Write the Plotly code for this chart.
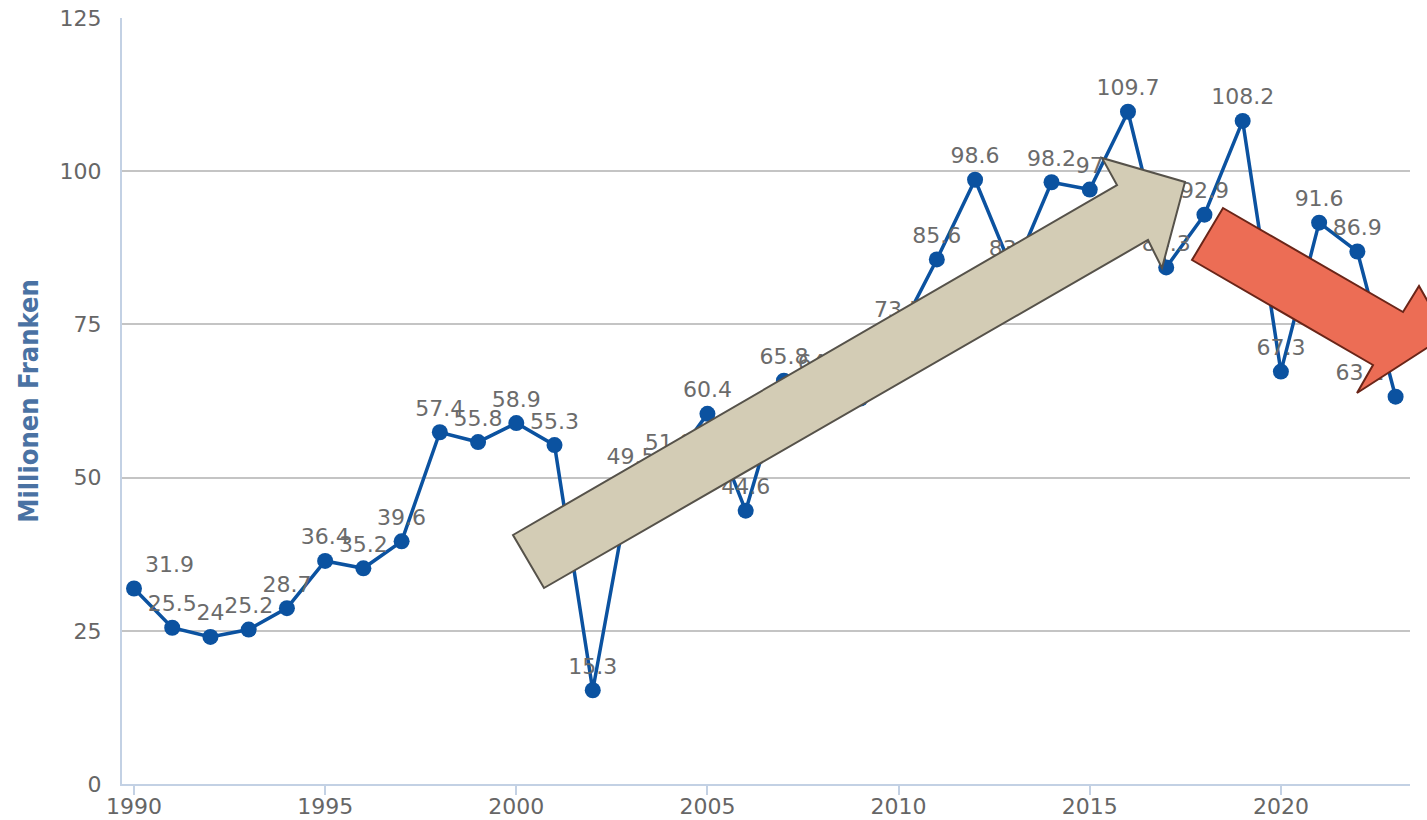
import plotly.graph_objects as go

years = list(range(1990, 2024))
values = [31.9, 25.5, 24.0, 25.2, 28.7, 36.4, 35.2, 39.6, 57.4, 55.8,
          58.9, 55.3, 15.3, 49.5, 51.8, 60.4, 44.6, 65.8, 64.9, 62.9,
          73.5, 85.6, 98.6, 83.5, 98.2, 97.0, 109.7, 84.3, 92.9, 108.2,
          67.3, 91.6, 86.9, 63.2]
labels = [("%g" % v) for v in values]

W, H = 1427, 820
L, R, T, B = 122, 17, 18, 36
PW, PH = W - L - R, H - T - B


def path_from_px(pts):
    out = []
    for i, (px, py) in enumerate(pts):
        x = (px - L) / PW
        y = (H - B - py) / PH
        out.append(("M" if i == 0 else "L") + f"{x:.5f},{y:.5f}")
    return " ".join(out) + " Z"


beige_arrow = [(513, 535), (1117, 185), (1102, 158), (1185, 182), (1162, 268), (1148, 240), (544, 588)]
red_arrow = [(1223, 208), (1403, 312), (1419, 286), (1447, 335), (1357, 393), (1373, 365), (1192, 260)]

positions = ["top center"] * len(values)
positions[0] = "top right"
positions[-1] = "top left"

fig = go.Figure()
fig.add_trace(go.Scatter(
    x=years, y=values, mode="lines+markers+text",
    text=labels, textposition=positions,
    textfont=dict(family="DejaVu Sans", size=22, color="#6b6b6b"),
    line=dict(color="#0b52a0", width=3.5),
    marker=dict(color="#0b52a0", size=16),
    cliponaxis=False, showlegend=False,
))

fig.update_layout(
    width=W, height=H,
    margin=dict(l=L, r=R, t=T, b=B, autoexpand=False),
    plot_bgcolor="white", paper_bgcolor="white",
    font=dict(family="DejaVu Sans", color="#666666"),
    xaxis=dict(range=[1989.686, 2023.377], tickmode="array",
               tickvals=[1990, 1995, 2000, 2005, 2010, 2015, 2020],
               ticks="outside", ticklen=9, tickcolor="#c3d1e4", tickwidth=1.5,
               showline=True, linecolor="#c3d1e4", linewidth=2,
               showgrid=False, zeroline=False, automargin=False,
               ticklabelstandoff=-7,
               tickfont=dict(size=22, color="#666666")),
    yaxis=dict(range=[0, 125], tickvals=[0, 25, 50, 75, 100, 125],
               showline=True, linecolor="#c3d1e4", linewidth=2,
               gridcolor="#c4c4c4", gridwidth=1.5, zeroline=False,
               ticks="", ticklabelstandoff=14, automargin=False,
               tickfont=dict(size=22, color="#666666"),
               title=dict(text="<b>Millionen Franken</b>", standoff=13,
                          font=dict(family="DejaVu Sans Condensed, DejaVu Sans", size=27, color="#4a72a3"))),
    shapes=[
        dict(type="path", xref="paper", yref="paper", path=path_from_px(beige_arrow),
             fillcolor="#d3ccb5", line=dict(color="#56524a", width=2), layer="above"),
        dict(type="path", xref="paper", yref="paper", path=path_from_px(red_arrow),
             fillcolor="#ec6d55", line=dict(color="#6a2518", width=2), layer="above"),
    ],
)

fig.write_html("out.html", config={"displayModeBar": False},
               post_script="document.body.style.margin='0px';")
